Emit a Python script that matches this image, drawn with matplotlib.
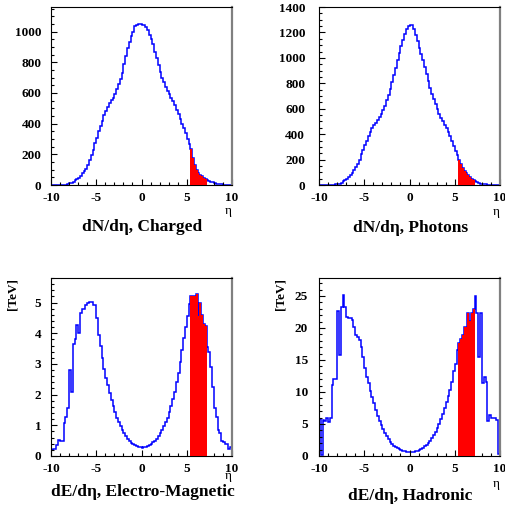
import numpy as np
import matplotlib
matplotlib.use("Agg")
import matplotlib.pyplot as plt
from matplotlib.ticker import MultipleLocator

plt.rcParams['font.family'] = ['Liberation Serif', 'DejaVu Serif']
plt.rcParams['axes.unicode_minus'] = False

# 100 bins of width 0.2 from eta = -10 to 10
eta_lo, eta_hi, nbins = -10.0, 10.0, 100
red_lo, red_hi = 5.4, 7.2   # shaded acceptance window

charged = [
    0, 0, 0, 0, 0,
    1, 1, 2, 3, 5,
    10, 15, 22, 30, 40,
    48, 60, 75, 88, 105,
    130, 160, 195, 230, 275,
    305, 350, 385, 420, 455,
    480, 510, 535, 553, 570,
    590, 625, 655, 690, 730,
    790, 840, 890, 930, 970,
    1000, 1035, 1045, 1048, 1048,
    1045, 1045, 1030, 1010, 980,
    950, 920, 870, 830, 780,
    735, 700, 670, 640, 610,
    590, 570, 545, 520, 490,
    460, 430, 400, 370, 340,
    300, 265, 235, 175, 131,
    98, 76, 65, 59, 48,
    42, 33, 28, 22, 17,
    12, 9, 7, 5, 4,
    3, 2, 1, 1, 0,
]

photons = [
    0, 0, 0, 0, 0,
    0, 1, 2, 3, 4,
    6, 10, 18, 28, 38,
    50, 62, 78, 95, 115,
    140, 165, 200, 240, 275,
    315, 350, 385, 415, 445,
    470, 490, 512, 535, 560,
    590, 625, 665, 705, 755,
    810, 865, 920, 985, 1040,
    1090, 1140, 1190, 1230, 1250,
    1262, 1255, 1225, 1180, 1130,
    1080, 1030, 980, 930, 870,
    815, 765, 715, 675, 635,
    595, 560, 530, 500, 470,
    445, 415, 385, 350, 310,
    270, 235, 200, 165, 135,
    112, 92, 78, 62, 50,
    40, 30, 22, 16, 11,
    8, 5, 4, 3, 2,
    1, 1, 0, 0, 0,
]

em_energy = [
    0.18, 0.24, 0.24, 0.37, 0.53,
    0.48, 0.48, 1.09, 1.27, 1.55,
    2.8, 2.1, 3.65, 3.8, 4.27,
    4.0, 4.65, 4.78, 4.8, 4.92,
    5.0, 5.03, 5.03, 4.92, 4.92,
    4.5, 3.95, 3.6, 3.2, 2.85,
    2.55, 2.3, 2.05, 1.82, 1.62,
    1.42, 1.25, 1.1, 0.97, 0.85,
    0.74, 0.64, 0.56, 0.49, 0.43,
    0.39, 0.35, 0.32, 0.3, 0.28,
    0.27, 0.28, 0.3, 0.33, 0.36,
    0.4, 0.45, 0.5, 0.57, 0.65,
    0.75, 0.85, 0.97, 1.1, 1.25,
    1.42, 1.62, 1.85, 2.1, 2.4,
    2.7, 3.05, 3.45, 3.85, 4.2,
    4.55, 4.95, 5.2, 5.2, 5.2,
    5.28, 4.55, 5.0, 4.6, 4.3,
    4.25, 3.55, 3.4, 2.9, 2.25,
    1.55, 1.27, 0.84, 0.75, 0.5,
    0.46, 0.4, 0.4, 0.24, 0.3,
]

had_energy = [
    5.8, 0.2, 5.7, 5.4, 6.0,
    5.3, 6.0, 11.1, 12.0, 12.0,
    22.6, 15.8, 23.3, 25.2, 23.3,
    21.7, 21.6, 21.5, 21.3, 20.2,
    18.9, 18.6, 18.1, 17.1, 15.5,
    13.7, 12.4, 11.4, 10.2, 9.2,
    8.2, 7.2, 6.3, 5.5, 4.8,
    4.2, 3.6, 3.1, 2.65, 2.25,
    1.9, 1.6, 1.38, 1.18, 1.02,
    0.9, 0.8, 0.72, 0.67, 0.64,
    0.63, 0.65, 0.69, 0.75, 0.85,
    0.97, 1.12, 1.3, 1.5, 1.75,
    2.05, 2.4, 2.8, 3.25, 3.8,
    4.4, 5.0, 5.8, 6.6, 7.5,
    8.4, 9.3, 10.3, 11.6, 13.2,
    14.3, 16.6, 17.6, 18.2, 18.9,
    20.1, 20.1, 22.3, 21.1, 22.3,
    22.9, 25.0, 22.4, 15.5, 22.3,
    11.4, 12.3, 11.6, 5.4, 6.4,
    6.0, 5.9, 5.9, 5.6, 0.3,
]

titles = ["dN/d\u03b7, Charged", "dN/d\u03b7, Photons",
          "dE/d\u03b7, Electro-Magnetic", "dE/d\u03b7, Hadronic"]

W, H = 505, 507
fig = plt.figure(figsize=(W / 100, H / 100), dpi=100)

def px_axes(l, t, r, b):
    return fig.add_axes([l / W, 1 - b / H, (r - l) / W, (b - t) / H])

edges = np.linspace(eta_lo, eta_hi, nbins + 1)
centers = 0.5 * (edges[:-1] + edges[1:])
sel = (centers > red_lo) & (centers < red_hi)
i0 = np.argmax(sel)
i1 = i0 + sel.sum()

panels = [
    # data, frame (l, t, r, b), ymax, major, minor, label pad, eta y, title y, ylabel
    (charged, (51, 7, 232, 185), 1160, 200, 50, 7, 211, 227, None),
    (photons, (319, 7, 500, 185), 1400, 200, 50, 10, 212, 228, None),
    (em_energy, (51, 278, 232, 456), 5.8, 1, 0.2, 7, 476, 492, "[TeV]"),
    (had_energy, (319, 278, 500, 456), 27.8, 5, 1, 8, 484, 496, "[TeV]"),
]

for k, (vals, frame, ymax, maj, mnr, pad, eta_y, title_y, ylab) in enumerate(panels):
    vals = np.asarray(vals, dtype=float)
    ax = px_axes(*frame)
    ax.stairs(vals, edges, color='blue', linewidth=1.1, baseline=0)
    ax.stairs(vals[i0:i1], edges[i0:i1 + 1], color='red', fill=True, zorder=3)
    ax.set_xlim(eta_lo, eta_hi)
    ax.set_ylim(0, ymax)
    ax.xaxis.set_major_locator(MultipleLocator(5))
    ax.xaxis.set_minor_locator(MultipleLocator(1))
    ax.yaxis.set_major_locator(MultipleLocator(maj))
    ax.yaxis.set_minor_locator(MultipleLocator(mnr))
    ax.tick_params(which='both', direction='in', top=False, right=False, width=0.8)
    ax.tick_params(which='major', length=4.5, labelsize=9.5)
    ax.tick_params(which='minor', length=2.5)
    ax.tick_params(axis='y', pad=pad)
    ax.tick_params(axis='x', pad=5)
    for lab in ax.get_xticklabels() + ax.get_yticklabels():
        lab.set_fontweight('bold')
    ax.spines['right'].set_color('#808080')
    ax.spines['right'].set_linewidth(1.6)
    for s in ('left', 'bottom', 'top'):
        ax.spines[s].set_linewidth(0.8)

    l, t, r, b = frame
    fig.text((r - 4) / W, 1 - eta_y / H, "\u03b7", ha='center', va='center', fontsize=9.5)
    fig.text((l + r) / 2 / W + 1 / W, 1 - title_y / H, titles[k], ha='center', va='center',
             fontsize=12.5, fontweight='bold')
    if ylab:
        fig.text((l - 38) / W, 1 - (t + 16) / H, ylab, ha='center', va='center',
                 rotation=90, fontsize=9.5, fontweight='bold')

fig.savefig("out.png", dpi=100)
